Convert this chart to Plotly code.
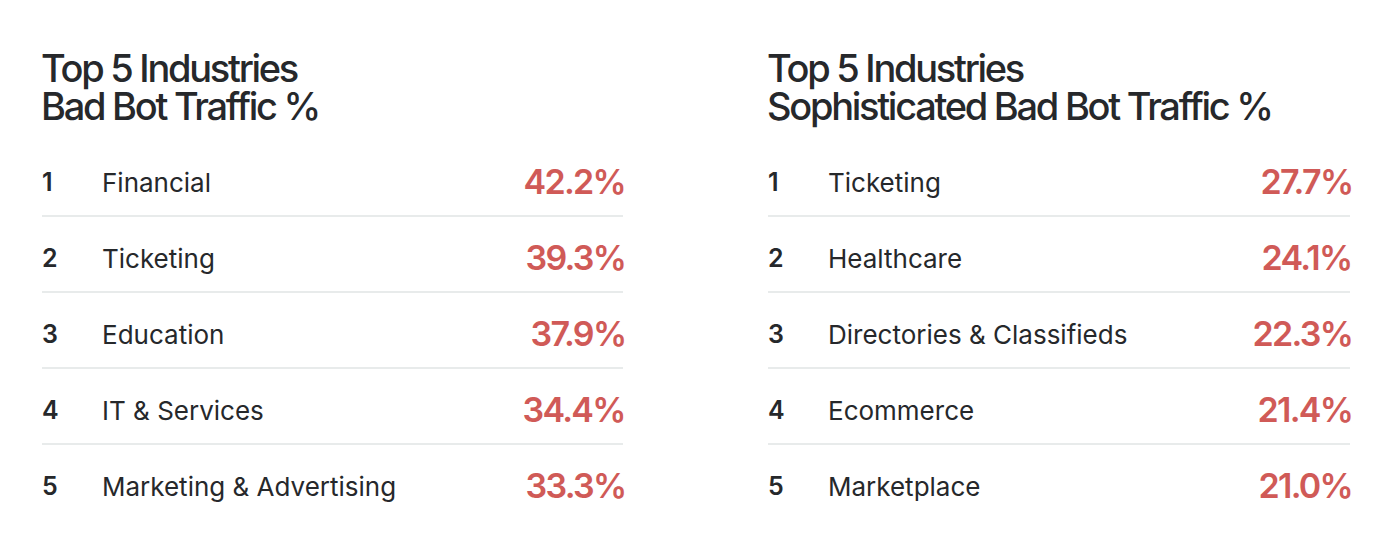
import plotly.graph_objects as go

# ---- data ----
left_title = ["Top 5 Industries", "Bad Bot Traffic %"]
left_ranks = [1, 2, 3, 4, 5]
left_industries = ["Financial", "Ticketing", "Education", "IT & Services", "Marketing & Advertising"]
left_values = [42.2, 39.3, 37.9, 34.4, 33.3]

right_title = ["Top 5 Industries", "Sophisticated Bad Bot Traffic %"]
right_ranks = [1, 2, 3, 4, 5]
right_industries = ["Ticketing", "Healthcare", "Directories & Classifieds", "Ecommerce", "Marketplace"]
right_values = [27.7, 24.1, 22.3, 21.4, 21.0]

W, H = 1396, 544
FONT = "Inter"
DARK = "#26282b"
RED = "#d05a57"
LINE = "#e1e4e4"
TITLE_SIZE = 38
VALUE_SIZE = 34

fig = go.Figure()
fig.add_trace(go.Scatter(x=[0, W], y=[0, H], mode="markers", marker=dict(opacity=0),
                         hoverinfo="skip", showlegend=False))

annotations = []
shapes = []

row0 = 182
row_step = 76
title_line1_y = 68
# plotly spaces annotation lines by 1.3em; the first line sits half that above the box centre
title_centre = title_line1_y + TITLE_SIZE * 1.3 / 2


def panel(x0, x1, title, ranks, inds, vals):
    annotations.append(dict(x=x0 - 3, y=title_centre, text="<br>".join(title), xanchor="left",
                            yanchor="middle", align="left", showarrow=False,
                            font=dict(family=FONT, size=TITLE_SIZE, color=DARK, weight=500)))
    for i, (r, ind, v) in enumerate(zip(ranks, inds, vals)):
        yc = row0 + i * row_step
        annotations.append(dict(x=x0 - 2, y=yc, text=str(r), xanchor="left", yanchor="middle", align="left",
                                showarrow=False, font=dict(family=FONT, size=25, color=DARK, weight=600)))
        annotations.append(dict(x=x0 + 58, y=yc, text=ind, xanchor="left", yanchor="middle", align="left",
                                showarrow=False, font=dict(family=FONT, size=26, color=DARK, weight=400)))
        annotations.append(dict(x=x1 + 4, y=yc - 1, text=f"{v:.1f}%", xanchor="right", yanchor="middle",
                                align="right", showarrow=False,
                                font=dict(family=FONT, size=VALUE_SIZE, color=RED, weight=600)))
        if i < len(ranks) - 1:
            ly = yc + 34
            shapes.append(dict(type="line", x0=x0, x1=x1, y0=ly, y1=ly, xref="x", yref="y",
                               line=dict(color=LINE, width=1.5)))


panel(42, 623, left_title, left_ranks, left_industries, left_values)
panel(768, 1350, right_title, right_ranks, right_industries, right_values)

fig.update_layout(
    width=W, height=H,
    margin=dict(l=0, r=0, t=0, b=0),
    paper_bgcolor="white", plot_bgcolor="white",
    xaxis=dict(range=[0, W], visible=False, fixedrange=True),
    yaxis=dict(range=[H, 0], visible=False, fixedrange=True),
    annotations=annotations, shapes=shapes,
)

post = """
document.body.style.margin = '0';
document.querySelectorAll('.annotation-text').forEach(function(el){
  var fs = parseFloat(el.style.fontSize);
  if (fs === %d) {
    el.style.letterSpacing = '-0.06em';
    var lines = el.querySelectorAll('tspan.line');
    lines.forEach(function(t, k){ t.setAttribute('dy', (k * 1.0) + 'em'); });
  }
  else if (fs === %d) { el.style.letterSpacing = '-0.05em'; }
});
""" % (TITLE_SIZE, VALUE_SIZE)

fig.write_html("out.html", post_script=post, config={"displayModeBar": False})
